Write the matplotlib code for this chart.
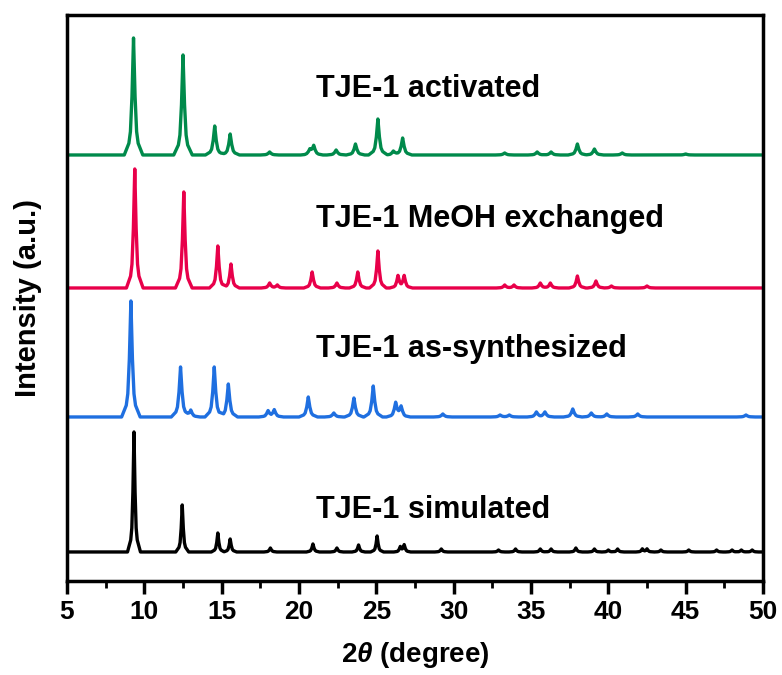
import matplotlib
matplotlib.use('Agg')
import matplotlib.pyplot as plt
import numpy as np

# ------ PEAK DATA (2theta, intensity above baseline, a.u.) ------
ACT_POS = [9.3, 12.5, 14.55, 15.55, 18.1, 20.7, 20.95, 22.4, 23.65, 25.1,
           26.1, 26.7, 33.3, 35.4, 36.3, 38.0, 39.1, 40.9, 45.0]
ACT_INT = [117, 100, 29, 21, 3, 5, 9, 5, 11, 36,
           4, 17, 2, 3, 3, 11, 6, 2, 1]

MEOH_POS = [9.38, 12.55, 14.75, 15.6, 18.1, 18.6, 20.85, 22.45, 23.8, 25.1,
            26.4, 26.8, 33.3, 33.9, 35.6, 36.25, 38.0, 39.2, 40.2, 42.5]
MEOH_INT = [119, 96, 42, 24, 5, 3, 16, 5, 16, 37,
            12, 12, 3, 3, 5, 5, 12, 7, 2, 2]

SYN_POS = [9.13, 12.34, 13.0, 14.52, 15.43, 18.0, 18.4, 20.6, 22.25, 23.55,
           24.8, 26.25, 26.6, 29.3, 33.0, 33.6, 35.35, 35.9, 37.7, 38.9,
           39.9, 41.9, 48.9]
SYN_INT = [116, 50, 7, 50, 33, 6, 7, 20, 4, 19,
           31, 14, 10, 3, 2, 2, 5, 5, 8, 4,
           3, 3, 2]

SIM_POS = [9.33, 12.45, 14.75, 15.55, 18.15, 20.9, 22.45, 23.85, 25.05, 26.55,
           26.8, 29.2, 32.9, 34.0, 35.6, 36.3, 37.9, 39.1, 40.0, 40.6,
           42.2, 42.5, 43.4, 45.2, 47.0, 48.0, 48.6, 49.3]
SIM_INT = [120, 47, 19, 13, 4, 8, 4, 7, 16, 5,
           7, 3, 2, 3, 3, 3, 4, 3, 2, 3,
           3, 3, 2, 2, 2, 2, 2, 2]

LABELS = ['TJE-1 activated', 'TJE-1 MeOH exchanged',
          'TJE-1 as-synthesized', 'TJE-1 simulated']
OFFSETS = [426, 293, 164, 29]
LABEL_Y = [484, 354, 224, 63]

# peak outline, in half-widths / fraction of peak height
KERN_X = np.array([-6, -3, -2, -1, 0, 1, 2, 3, 6])
KERN_Y = np.array([0, 0.1, 0.2, 0.5, 1, 0.5, 0.2, 0.1, 0])


def pattern(pos, inten, g):
    """ piecewise linear trace through the read peak tops """
    xs = [5.0, 50.0]
    for p in pos:
        xs += list(p + KERN_X * g)
    xs = np.array(sorted(xs))
    ys = np.zeros_like(xs)
    for p, h in zip(pos, inten):
        ys += np.interp(xs, p + KERN_X * g, h * KERN_Y, left=0, right=0)
    return xs, ys


plt.rcParams['font.family'] = ['Liberation Sans', 'DejaVu Sans']
plt.rcParams['mathtext.fontset'] = 'custom'
plt.rcParams['mathtext.bfit'] = 'Liberation Sans:italic:bold'
fig = plt.figure(figsize=(7.82, 6.75), dpi=100)
ax = fig.add_axes([0.0857, 0.1393, 0.89, 0.8385])

series = [(ACT_POS, ACT_INT, '#008a4b', 0.1),
          (MEOH_POS, MEOH_INT, '#e8004a', 0.09),
          (SYN_POS, SYN_INT, '#1f6fe0', 0.1),
          (SIM_POS, SIM_INT, 'black', 0.07)]
for (pos, inten, col, g), off, lab, ly in zip(series, OFFSETS, LABELS, LABEL_Y):
    x, y = pattern(pos, inten, g)
    ax.plot(x, y + off, color=col, lw=2.4, solid_joinstyle='round')
    ax.text(21.1, ly, lab, fontsize=22, fontweight='bold',
            va='baseline', ha='left')

ax.set_xlim(5, 50)
ax.set_ylim(0, 566)
ax.set_xticks(np.arange(5, 51, 5))
ax.set_xticks(np.arange(7.5, 50, 5), minor=True)
ax.set_yticks([])
for s in ax.spines.values():
    s.set_linewidth(2.5)
ax.tick_params(axis='x', which='major', direction='out', length=9, width=2.5,
               labelsize=19, pad=5)
ax.tick_params(axis='x', which='minor', direction='out', length=5, width=2)
for t in ax.get_xticklabels():
    t.set_fontweight('bold')

ax.set_xlabel(r'2$\boldsymbol{\theta}$ (degree)', fontsize=20, fontweight='bold',
              labelpad=11)
ax.set_ylabel('Intensity (a.u.)', fontsize=21, fontweight='bold', labelpad=18)
fig.savefig('out.png', dpi=100)
